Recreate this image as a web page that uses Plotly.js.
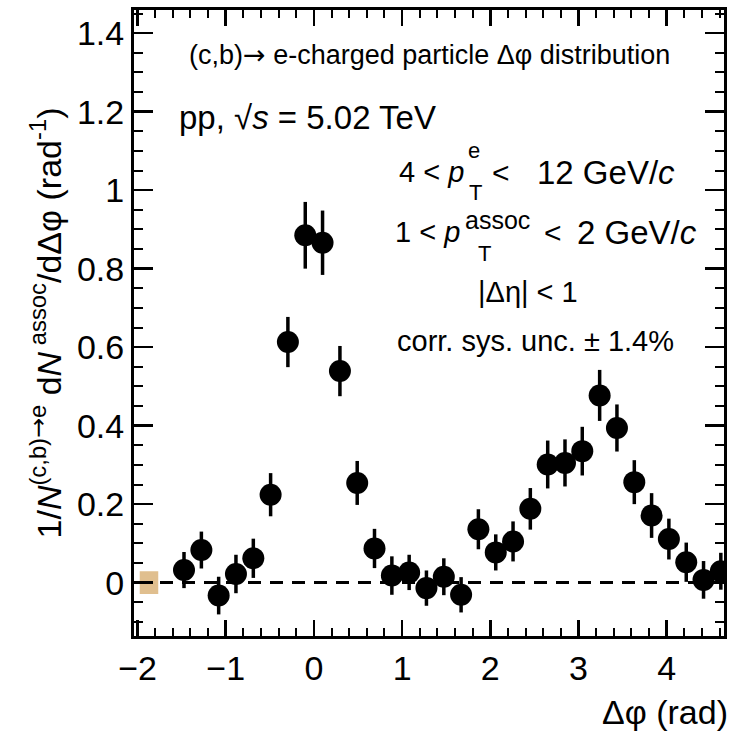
<!DOCTYPE html>
<html>
<head>
<meta charset="utf-8">
<script src="https://cdn.plot.ly/plotly-3.0.1.min.js"></script>
<style>html,body{margin:0;padding:0;background:#fff;}#chart{width:733px;height:737px;}</style>
</head>
<body>
<div id="chart"></div>
<script>
// Δφ bin centres (rad)
const dphi = [-1.473, -1.276, -1.080, -0.884, -0.687, -0.491, -0.295, -0.098,
              0.098, 0.295, 0.491, 0.687, 0.884, 1.080, 1.276, 1.473,
              1.669, 1.865, 2.062, 2.258, 2.454, 2.651, 2.847, 3.043,
              3.240, 3.436, 3.633, 3.829, 4.025, 4.222, 4.418, 4.614];
// 1/N dN/dΔφ values
const yield_ = [0.032, 0.083, -0.033, 0.022, 0.062, 0.224, 0.613, 0.885,
                0.866, 0.539, 0.254, 0.087, 0.018, 0.026, -0.014, 0.015,
                -0.031, 0.136, 0.077, 0.105, 0.188, 0.301, 0.305, 0.335,
                0.477, 0.394, 0.256, 0.171, 0.111, 0.052, 0.007, 0.029];
// statistical uncertainties
const statErr = [0.046, 0.047, 0.048, 0.049, 0.050, 0.055, 0.064, 0.085,
                 0.082, 0.064, 0.056, 0.050, 0.049, 0.045, 0.045, 0.047,
                 0.045, 0.051, 0.046, 0.051, 0.053, 0.061, 0.060, 0.062,
                 0.065, 0.060, 0.056, 0.057, 0.052, 0.050, 0.048, 0.047];
// correlated systematic uncertainty box (drawn at y = 0)
const corrSysX = [-1.87];
const corrSysHalf = 0.029;

const xTickVals = [-2, -1, 0, 1, 2, 3, 4];
const yTickVals = [0, 0.2, 0.4, 0.6, 0.8, 1, 1.2, 1.4];
const xRange = [-2.04, 4.65];
const yRange = [-0.136, 1.459];

const FONT = 'Liberation Sans, Arial, Helvetica, sans-serif';
const ARROW = '<span style="font-family:DejaVu Sans">→</span>';

const traces = [
  {
    type: 'bar',
    x: corrSysX,
    y: [2 * corrSysHalf],
    base: [-corrSysHalf],
    width: 0.21,
    marker: {color: 'rgba(214,170,106,0.75)', line: {width: 0}},
    hoverinfo: 'skip',
    showlegend: false
  },
  {
    type: 'scatter',
    mode: 'markers',
    x: dphi,
    y: yield_,
    error_y: {type: 'data', array: statErr, visible: true, thickness: 3.5, width: 0, color: '#000'},
    marker: {symbol: 'circle', size: 22, color: '#000'},
    showlegend: false
  }
];

const px = (v) => (v - 134) / 590;
const py = (v) => (636 - v) / 626;
const ann = (text, x, y, size, xanchor) => ({
  text: text, xref: 'paper', yref: 'paper', x: px(x), y: py(y),
  xanchor: xanchor || 'center', yanchor: 'middle', showarrow: false,
  font: {family: FONT, size: size, color: '#000'}
});

const annotations = [
  ann('(c,b)' + ARROW + ' e-charged particle Δφ distribution', 429, 55, 27, 'center'),
  ann('pp, √<i>s</i> = 5.02 TeV', 177, 117, 33, 'left'),
  // line 1
  ann('4 < <i>p</i>', 466, 172, 29, 'right'),
  ann('e', 474, 150, 22, 'center'),
  ann('T', 475, 193, 22, 'center'),
  ann('<', 490, 172, 30, 'left'),
  ann('12 GeV/<i>c</i>', 535, 172, 33, 'left'),
  // line 2
  ann('1 < <i>p</i>', 462, 232, 29, 'right'),
  ann('assoc', 463, 220, 25, 'left'),
  ann('T', 484, 253, 22, 'center'),
  ann('<', 542, 232, 30, 'left'),
  ann('2 GeV/<i>c</i>', 575, 232, 33, 'left'),
  // line 3
  ann('|Δη| < 1', 528, 292, 29, 'center'),
  // line 4
  ann('corr. sys. unc. ± 1.4%', 535, 341, 29, 'center'),
  // x-axis title
  ann('Δφ (rad)', 730, 712, 34, 'right')
];

const layout = {
  width: 733, height: 737,
  margin: {l: 134, r: 9, t: 10, b: 101, pad: 0},
  paper_bgcolor: '#fff', plot_bgcolor: '#fff',
  font: {family: FONT, color: '#000'},
  showlegend: false,
  xaxis: {
    range: xRange,
    tickvals: xTickVals,
    ticks: 'inside', ticklen: 16, tickwidth: 2.5, tickcolor: '#000',
    minor: {dtick: 0.2, tick0: 0, ticks: 'inside', ticklen: 8, tickwidth: 2, tickcolor: '#000'},
    showline: true, linewidth: 3, linecolor: '#000', mirror: 'allticks',
    showgrid: false, zeroline: false,
    tickfont: {family: FONT, size: 34, color: '#000'}
  },
  yaxis: {
    range: yRange,
    tickvals: yTickVals,
    ticks: 'inside', ticklen: 19, tickwidth: 2.5, tickcolor: '#000',
    minor: {dtick: 0.05, tick0: 0, ticks: 'inside', ticklen: 9, tickwidth: 2, tickcolor: '#000'},
    showline: true, linewidth: 3, linecolor: '#000', mirror: 'allticks',
    showgrid: false, zeroline: false,
    tickfont: {family: FONT, size: 34, color: '#000'},
    title: {
      text: '1/<i>N</i><sup>(c,b)' + ARROW + 'e</sup> d<i>N</i><sup> assoc</sup>/dΔφ (rad<sup>-1</sup>)',
      font: {family: FONT, size: 34, color: '#000'},
      standoff: 6
    },
    automargin: false
  },
  shapes: [
    {type: 'line', xref: 'paper', yref: 'y', x0: px(138), x1: 1, y0: 0, y1: 0,
     line: {color: '#000', width: 3, dash: '13px,9px'}, layer: 'below'}
  ],
  annotations: annotations
};

Plotly.newPlot('chart', traces, layout, {displayModeBar: false, staticPlot: true});
</script>
</body>
</html>
